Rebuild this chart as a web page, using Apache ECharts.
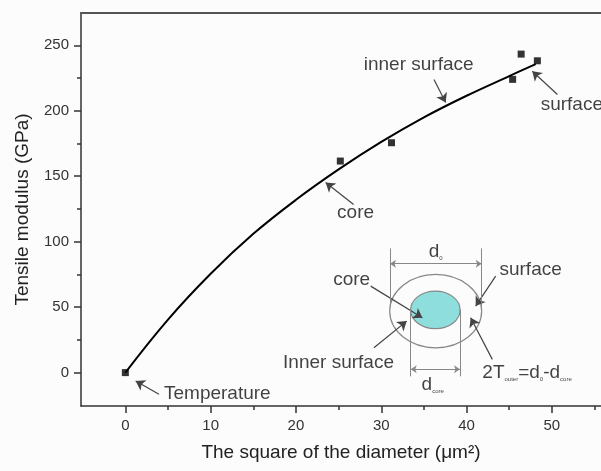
<!DOCTYPE html>
<html><head><meta charset="utf-8">
<script src="https://cdn.jsdelivr.net/npm/echarts@6/dist/echarts.min.js"></script>
<style>html,body{margin:0;padding:0;background:#fcfcfc}#c{width:601px;height:471px}</style>
</head><body><div id="c"></div>
<script>
// ---- data ----
const xTickValues = [0, 10, 20, 30, 40, 50];
const xMinorTicks = [5, 15, 25, 35, 45, 55];
const yTickValues = [0, 50, 100, 150, 200, 250];
const yMinorTicks = [25, 75, 125, 175, 225];
const pointsX = [0, 25.2, 31.2, 45.4, 46.4, 48.3];
const pointsY = [0, 161.6, 175.6, 224, 243.3, 238.2];
const fitX = [0, 5, 10, 15, 20, 25, 30, 35, 40, 45, 48.1];
const fitY = [0, 40.5, 75.5, 106, 132, 155.2, 176.2, 195, 211.5, 226.5, 235.7];

// annotation texts: [text, x, y, align]
const noteTexts = [
  ['Temperature', 4.53, -15.8, 'left'],
  ['core', 26.99, 122.3, 'center'],
  ['inner surface', 34.38, 235.3, 'center'],
  ['surface', 48.69, 204.8, 'left'],
  ['core', 26.53, 71.2, 'center'],
  ['surface', 47.51, 78.8, 'center'],
  ['Inner surface', 31.49, 7.8, 'right'],
  ['2T{s|outer}=d{s|0}-d{s|core}', 41.85, 0.2, 'left'],
  ['d{s|0}', 36.38, 92.6, 'center'],
  ['d{s|core}', 36.03, -9.0, 'center']
];
// pointer arrows: [x1, y1, x2(tip), y2(tip)]
const pointerArrows = [
  [3.94, -16.6, 1.21, -6.45],
  [26.76, 128.4, 23.48, 145.2],
  [36.18, 223.9, 37.55, 206.3],
  [50.65, 212.4, 47.71, 230.2],
  [28.76, 66.07, 34.82, 41.95],
  [43.41, 73.70, 41.07, 50.80],
  [29.14, 19.05, 32.98, 39.35],
  [43.02, 10.11, 40.48, 41.95]
];
// inset dimension lines: [x1, y1, x2, y2, doubleArrow]
const dimLines = [
  [31.02, 94.85, 31.02, 50.57, 0],
  [41.77, 94.85, 41.77, 43.70, 0],
  [31.02, 83.17, 41.77, 83.17, 1],
  [33.45, 48.28, 33.45, -2.86, 0],
  [39.23, 48.28, 39.23, -2.86, 0],
  [33.45, 2.48, 39.23, 2.48, 1]
];
// inset ellipses: [cx, cy, rx, ry, fill]
const ellipses = [
  [36.38, 46.98, 5.39, 28.02, 'none'],
  [36.34, 47.9, 2.90, 14.35, '#8fdede']
];

const FONT = '"Liberation Sans", Arial, sans-serif';
const chart = echarts.init(document.getElementById('c'));

const markData = [];
pointerArrows.forEach(a => markData.push([
  {coord: [a[0], a[1]], symbol: 'none', lineStyle: {color: '#444', width: 1.2, type: 'solid'}},
  {coord: [a[2], a[3]], symbol: 'arrow', symbolSize: 9}
]));
dimLines.forEach(d => markData.push([
  {coord: [d[0], d[1]], symbol: d[4] ? 'arrow' : 'none', symbolSize: 6, lineStyle: {color: '#888', width: 1, type: 'solid'}},
  {coord: [d[2], d[3]], symbol: d[4] ? 'arrow' : 'none', symbolSize: 6}
]));

const X_MIN = -5.2, X_MAX = 55.76;

chart.setOption({
  backgroundColor: '#fcfcfc',
  animation: false,
  textStyle: {fontFamily: FONT},
  grid: {left: 81, right: 0, top: 13, bottom: 65, containLabel: false},
  xAxis: [{
    type: 'value', min: X_MIN, max: X_MAX, position: 'bottom',
    name: 'The square of the diameter (\u03bcm\u00b2)', nameLocation: 'middle', nameGap: 37,
    nameTextStyle: {fontSize: 19, color: '#222', fontFamily: FONT},
    axisLine: {show: true, onZero: false, lineStyle: {color: '#333', width: 1.5}},
    axisTick: {show: true, customValues: xTickValues, length: 7, lineStyle: {color: '#333', width: 1.5}},
    axisLabel: {customValues: xTickValues, fontSize: 15, color: '#333', margin: 12, fontFamily: FONT},
    splitLine: {show: false}
  }, {
    type: 'value', min: X_MIN, max: X_MAX, position: 'bottom',
    axisLine: {show: false, onZero: false},
    axisTick: {show: true, customValues: xMinorTicks, length: 4, lineStyle: {color: '#333', width: 1.5}},
    axisLabel: {show: false}, splitLine: {show: false}
  }, {
    type: 'value', min: X_MIN, max: X_MAX, position: 'top',
    axisLine: {show: true, onZero: false, lineStyle: {color: '#555', width: 2}},
    axisTick: {show: false}, axisLabel: {show: false}, splitLine: {show: false}
  }],
  yAxis: [{
    type: 'value', min: -25.5, max: 274.7, position: 'left',
    name: 'Tensile modulus (GPa)', nameLocation: 'middle', nameGap: 49, nameRotate: 90,
    nameTextStyle: {fontSize: 19, color: '#222', fontFamily: FONT},
    axisLine: {show: true, onZero: false, lineStyle: {color: '#333', width: 1.5}},
    axisTick: {show: true, customValues: yTickValues, length: 7, lineStyle: {color: '#333', width: 1.5}},
    axisLabel: {customValues: yTickValues, fontSize: 15, color: '#333', margin: 12, fontFamily: FONT},
    splitLine: {show: false}
  }, {
    type: 'value', min: -25.5, max: 274.7, position: 'left',
    axisLine: {show: false, onZero: false},
    axisTick: {show: true, customValues: yMinorTicks, length: 4, lineStyle: {color: '#333', width: 1.5}},
    axisLabel: {show: false}, splitLine: {show: false}
  }],
  series: [{
    type: 'custom', name: 'inset', coordinateSystem: 'cartesian2d', z: 1,
    data: ellipses.map(e => e),
    renderItem: function (params, api) {
      const c = api.coord([api.value(0), api.value(1)]);
      const s = api.size([api.value(2), api.value(3)]);
      const e = ellipses[params.dataIndex];
      return {
        type: 'ellipse',
        shape: {cx: c[0], cy: c[1], rx: s[0], ry: s[1]},
        style: {fill: e[4] === 'none' ? 'transparent' : e[4], stroke: '#888', lineWidth: 1.2}
      };
    }
  }, {
    type: 'line', name: 'fit', data: fitX.map((x, i) => [x, fitY[i]]),
    smooth: 0.4, showSymbol: false, symbol: 'none', z: 3,
    lineStyle: {color: '#000', width: 2}
  }, {
    type: 'scatter', name: 'points', data: pointsX.map((x, i) => [x, pointsY[i]]),
    symbol: 'rect', symbolSize: 7, z: 4,
    itemStyle: {color: '#000'}
  }, {
    type: 'scatter', name: 'notes', z: 5, symbolSize: 0, silent: true,
    data: noteTexts.map(t => ({
      value: [t[1], t[2]],
      label: {show: true, position: 'inside', formatter: t[0], align: t[3], verticalAlign: 'middle',
        fontSize: 19, color: '#111', fontFamily: FONT,
        rich: {s: {fontSize: 6, color: '#111', verticalAlign: 'bottom', fontFamily: FONT}}}
    })),
    markLine: {silent: true, animation: false, label: {show: false}, emphasis: {disabled: true},
      data: markData}
  }]
});
</script></body></html>
